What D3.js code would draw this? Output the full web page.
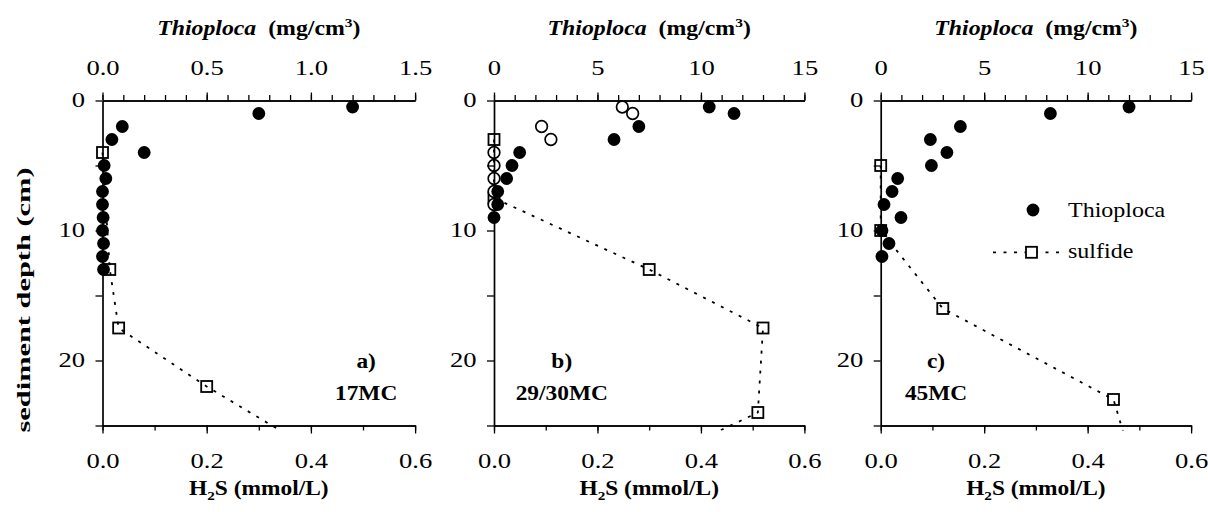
<!DOCTYPE html>
<html><head><meta charset="utf-8">
<script src="https://cdn.jsdelivr.net/npm/d3@7"></script>
<style>
body{margin:0;background:#fff}
svg{display:block}
text{font-family:"Liberation Serif","Times New Roman",Times,serif;fill:#000}
</style>
</head><body>
<svg id="chart" width="1208" height="512"></svg>
<script>
// ---------------- data ----------------
const panelLetters = ["a)", "b)", "c)"];
const coreNames = ["17MC", "29/30MC", "45MC"];
const thioMax = [1.5, 15, 15];
const thioMajorStep = [0.5, 5, 5];
const thioMinorStep = [0.1, 1, 1];
const thioTickFormat = [".1f", "d", "d"];
const h2sMax = 0.6;
const depthMax = 25;

// Thioploca biomass (filled circles), depth in cm
const thioA_depth = [0.5, 1, 2, 3, 4, 5, 6, 7, 8, 9, 10, 11, 12, 13];
const thioA_val   = [1.2, 0.75, 0.095, 0.045, 0.2, 0.008, 0.016, 0, 0, 0.003, 0, 0.005, 0, 0.005];
const thioB_depth = [0.5, 1, 2, 3, 4, 5, 6, 7, 8, 9];
const thioB_val   = [10.4, 11.6, 7.0, 5.8, 1.24, 0.87, 0.61, 0.18, 0.18, 0];
const thioC_depth = [0.5, 1, 2, 3, 4, 5, 6, 7, 8, 9, 10, 11, 12];
const thioC_val   = [12.0, 8.2, 3.85, 2.4, 3.2, 2.45, 0.82, 0.55, 0.16, 0.98, 0.06, 0.4, 0.06];
// second Thioploca core in panel b (open circles)
const thioB2_depth = [0.5, 1, 2, 3, 4, 5, 6, 7, 8];
const thioB2_val   = [6.2, 6.7, 2.3, 2.75, 0, 0, 0, 0, 0];

// sulfide (open squares, dotted line), H2S mmol/L
const sulfA_depth = [4, 13, 17.5, 22, 28];
const sulfA_val   = [0, 0.014, 0.031, 0.2, 0.45];
const sulfB_depth = [3, 7.5, 13, 17.5, 24, 28];
const sulfB_val   = [0, 0, 0.3, 0.52, 0.51, 0.3];
const sulfC_depth = [5, 10, 16, 23, 27];
const sulfC_val   = [0, 0, 0.12, 0.45, 0.48];

const thioFilled = [[thioA_depth, thioA_val], [thioB_depth, thioB_val], [thioC_depth, thioC_val]];
const thioOpen = [null, [thioB2_depth, thioB2_val], null];
const sulfide = [[sulfA_depth, sulfA_val], [sulfB_depth, sulfB_val], [sulfC_depth, sulfC_val]];

// ---------------- layout ----------------
const lefts = [102.5, 494, 880.7];
const widths = [312.6, 310.4, 310.4];
const yTop = 100.5, yBot = 425.5;
// annotation anchor (H2S units, depth units)
const annotX = [0.506, 0.131, 0.107];
const annotDepth1 = 20.6, annotDepth2 = 23.0;

const SX_DIGIT = 1.33, SX_BOLD = 1.17, SX_REG = 1.2;

const svg = d3.select("#chart");
const y = d3.scaleLinear().domain([0, depthMax]).range([yTop, yBot]);

svg.append("defs").append("clipPath").attr("id", "clipAll")
  .append("rect").attr("x", 0).attr("y", yTop - 2).attr("width", 1208).attr("height", yBot - yTop + 7);

function styleAxis(g) {
  g.select(".domain").attr("stroke", "#000").attr("stroke-width", 1.7);
  g.selectAll(".tick line").attr("stroke", "#000").attr("stroke-width", 1.3);
  g.selectAll("text").style("font-size", "20px")
    .style("font-family", '"Liberation Serif","Times New Roman",Times,serif').attr("fill", "#000");
}

for (let i = 0; i < 3; i++) {
  const x0 = lefts[i], w = widths[i];
  const xT = d3.scaleLinear().domain([0, thioMax[i]]).range([x0, x0 + w]);
  const xH = d3.scaleLinear().domain([0, h2sMax]).range([x0, x0 + w]);
  const P = svg.append("g");
  const sq = 11;

  // ---- sulfide squares (below circles) ----
  const [sd, sv] = sulfide[i];
  const spts = sd.map((d, k) => [d, sv[k]]);
  P.append("g").selectAll("rect").data(spts.filter(p => p[0] <= depthMax)).join("rect")
    .attr("x", d => xH(d[1]) - sq / 2).attr("y", d => y(d[0]) - sq / 2)
    .attr("width", sq).attr("height", sq)
    .attr("fill", "#fff").attr("stroke", "#000").attr("stroke-width", 1.8);

  // ---- Thioploca circles ----
  if (thioOpen[i]) {
    const [dd, vv] = thioOpen[i];
    P.append("g").selectAll("circle").data(dd.map((d, k) => [d, vv[k]])).join("circle")
      .attr("cx", d => xT(d[1])).attr("cy", d => y(d[0])).attr("r", 5.8)
      .attr("fill", "#fff").attr("stroke", "#000").attr("stroke-width", 1.7);
  }
  {
    const [dd, vv] = thioFilled[i];
    P.append("g").selectAll("circle").data(dd.map((d, k) => [d, vv[k]])).join("circle")
      .attr("cx", d => xT(d[1])).attr("cy", d => y(d[0])).attr("r", 6.4).attr("fill", "#000");
  }

  // ---- sulfide dotted line ----
  const line = d3.line().x(d => xH(d[1])).y(d => y(d[0]));
  P.append("path").attr("d", line(spts)).attr("clip-path", "url(#clipAll)")
    .attr("fill", "none").attr("stroke", "#000").attr("stroke-width", 1.8)
    .attr("stroke-dasharray", "3,7");

  // ---- top axis (Thioploca) ----
  const topMinor = d3.range(0, thioMax[i] + 1e-9, thioMinorStep[i]);
  const topMajor = d3.range(0, thioMax[i] + 1e-9, thioMajorStep[i]);
  const gtm = P.append("g").attr("transform", `translate(0,${yTop})`)
    .call(d3.axisTop(xT).tickValues(topMinor).tickSize(5.5).tickSizeOuter(0).tickFormat(""));
  styleAxis(gtm);
  const gt = P.append("g").attr("transform", `translate(0,${yTop})`)
    .call(d3.axisTop(xT).tickValues(topMajor).tickSize(8).tickSizeOuter(0).tickPadding(17.5)
      .tickFormat(d3.format(thioTickFormat[i])));
  styleAxis(gt);
  gt.selectAll("text").attr("transform", `scale(${SX_DIGIT},1)`);

  // ---- bottom axis (H2S) ----
  const botMinor = d3.range(0, h2sMax + 1e-9, 0.1);
  const botMajor = d3.range(0, h2sMax + 1e-9, 0.2);
  const gbm = P.append("g").attr("transform", `translate(0,${yBot})`)
    .call(d3.axisBottom(xH).tickValues(botMinor).tickSize(5).tickSizeOuter(0).tickFormat(""));
  styleAxis(gbm);
  const gb = P.append("g").attr("transform", `translate(0,${yBot})`)
    .call(d3.axisBottom(xH).tickValues(botMajor).tickSize(8).tickSizeOuter(0).tickPadding(20.3)
      .tickFormat(d3.format(".1f")));
  styleAxis(gb);
  gb.selectAll("text").attr("transform", `scale(${SX_DIGIT},1)`);

  // ---- left axis (depth) ----
  const gl = P.append("g").attr("transform", `translate(${x0},0)`)
    .call(d3.axisLeft(y).tickValues([0, 5, 10, 15, 20, 25]).tickSize(7).tickSizeOuter(0)
      .tickFormat(d => d % 10 === 0 && d < 25 ? d3.format("d")(d) : ""));
  styleAxis(gl);
  gl.selectAll("text").attr("x", -17.5 / SX_DIGIT).attr("transform", `scale(${SX_DIGIT},1)`);

  // ---- titles ----
  const cx = x0 + w / 2;
  const tt = P.append("text").attr("transform", `translate(${cx},35) scale(1.19,1)`)
    .attr("text-anchor", "middle").style("font-size", "20px").style("font-weight", "bold");
  tt.append("tspan").style("font-style", "italic").text("Thioploca");
  tt.append("tspan").text("\u00a0\u00a0(mg/cm");
  tt.append("tspan").style("font-size", "13px").attr("dy", -8).text("3");
  tt.append("tspan").attr("dy", 8).text(")");

  const xl = P.append("text").attr("transform", `translate(${cx},495) scale(${SX_BOLD},1)`)
    .attr("text-anchor", "middle").style("font-size", "20px").style("font-weight", "bold");
  xl.append("tspan").text("H");
  xl.append("tspan").style("font-size", "13px").attr("dy", 5).text("2");
  xl.append("tspan").attr("dy", -5).text("S (mmol/L)");

  // ---- panel annotation ----
  const ax = xH(annotX[i]);
  P.append("text").attr("transform", `translate(${ax},${y(annotDepth1)}) scale(${SX_BOLD},1)`)
    .attr("text-anchor", "middle").style("font-size", "20px").style("font-weight", "bold").text(panelLetters[i]);
  P.append("text").attr("transform", `translate(${ax},${y(annotDepth2)}) scale(${SX_BOLD},1)`)
    .attr("text-anchor", "middle").style("font-size", "20px").style("font-weight", "bold").text(coreNames[i]);

  // ---- legend (panel c) ----
  if (i === 2) {
    const lg = P.append("g").attr("transform", "translate(1033,210)");
    lg.append("circle").attr("cx", 0).attr("cy", 0).attr("r", 6.4).attr("fill", "#000");
    lg.append("text").attr("transform", `translate(35,6.7) scale(${SX_REG},1)`)
      .style("font-size", "20px").text("Thioploca");
    lg.append("line").attr("x1", -40).attr("x2", 31).attr("y1", 42.3).attr("y2", 42.3)
      .attr("stroke", "#000").attr("stroke-width", 1.8).attr("stroke-dasharray", "3,7.5");
    lg.append("rect").attr("x", -1.5 - sq / 2).attr("y", 42.3 - sq / 2).attr("width", sq).attr("height", sq)
      .attr("fill", "#fff").attr("stroke", "#000").attr("stroke-width", 1.8);
    lg.append("text").attr("transform", `translate(35,48.3) scale(${SX_REG},1)`)
      .style("font-size", "20px").text("sulfide");
  }
}

// y-axis title
svg.append("text").attr("transform", "translate(30,300) rotate(-90)")
  .attr("text-anchor", "middle").style("font-size", "18px").style("font-weight", "bold")
  .attr("textLength", 265).attr("lengthAdjust", "spacingAndGlyphs")
  .text("sediment depth (cm)");
</script>
</body></html>
